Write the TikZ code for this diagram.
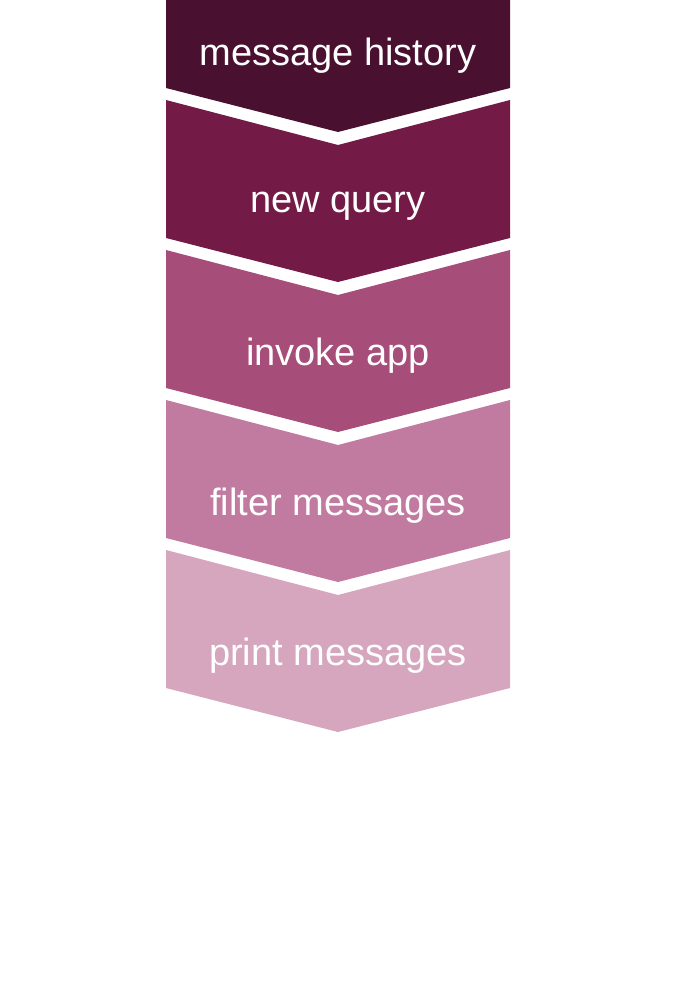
\documentclass[tikz,border=0pt]{standalone}
\usepackage{fontspec}
\setmainfont{Liberation Sans}
\definecolor{stepA}{HTML}{4A1030}
\definecolor{stepB}{HTML}{731A47}
\definecolor{stepC}{HTML}{A64D79}
\definecolor{stepD}{HTML}{C27BA0}
\definecolor{stepE}{HTML}{D5A6BD}
\begin{document}
\begin{tikzpicture}[x=1pt,y=-1pt]
    \tikzstyle{steptext}=[text=white, font=\fontsize{38}{44}\selectfont, inner sep=0pt]
    \useasboundingbox (0,0) rectangle (700,1000);

    % First chevron has a flat top
    \fill[stepA] (166,0) -- (510,0) -- (510,88) -- (338,132) -- (166,88) -- cycle;
    \node[steptext] (s-1) at (338,56) {message history};

    % The other chevrons are notched at the top
    \foreach \name / \col / \txt in {2/stepB/new query, 3/stepC/invoke app,
        4/stepD/filter messages, 5/stepE/print messages}
    {
        \pgfmathsetmacro{\top}{(\name-1)*150-50}
        \fill[\col] (166,\top) -- (338,\top+45) -- (510,\top) -- (510,\top+138)
            -- (338,\top+182) -- (166,\top+138) -- cycle;
        \node[steptext] (s-\name) at (338,\top+106) {\txt};
    }
\end{tikzpicture}
\end{document}
